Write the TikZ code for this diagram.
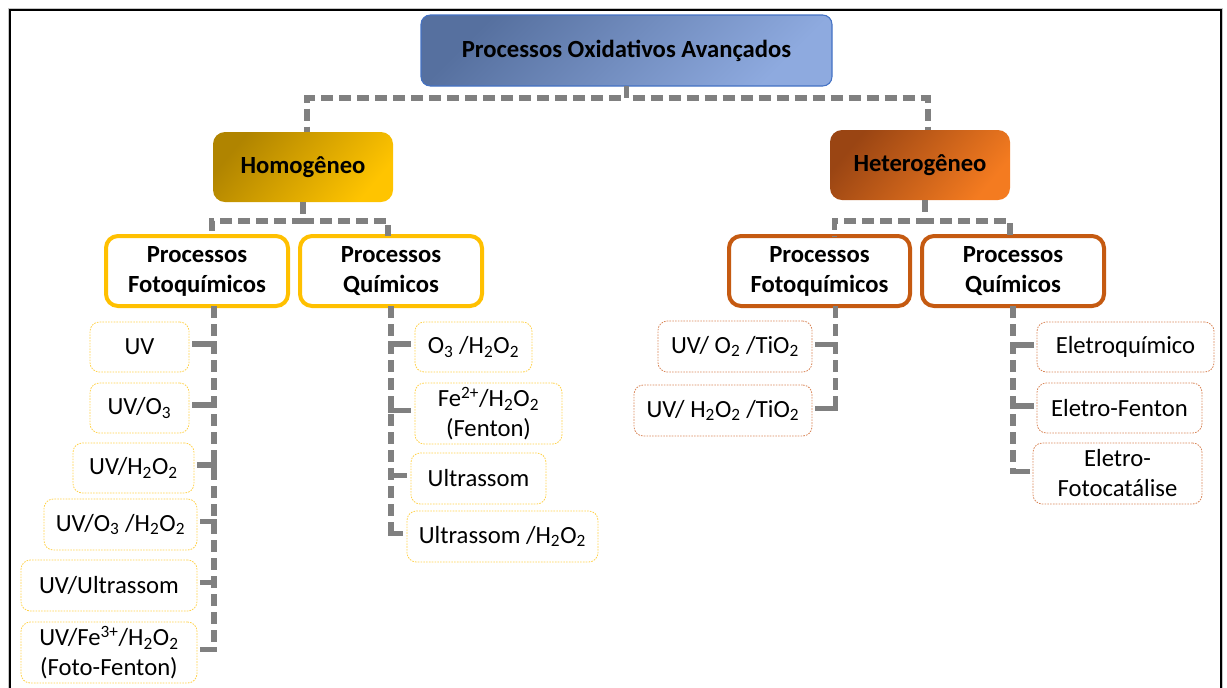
\documentclass[tikz,border=0pt]{standalone}
\usepackage{fontspec}
\setmainfont{Carlito}
\usetikzlibrary{calc}
\definecolor{cgray}{HTML}{808080}
\definecolor{cblueA}{HTML}{56709F}
\definecolor{cblueB}{HTML}{8EAADF}
\definecolor{cblueE}{HTML}{4472C4}
\definecolor{cgoldA}{HTML}{B08400}
\definecolor{cgoldB}{HTML}{FFC400}
\definecolor{cgold}{HTML}{FFC000}
\definecolor{cgoldL}{HTML}{FFD24D}
\definecolor{corA}{HTML}{9A4513}
\definecolor{corB}{HTML}{F47B20}
\definecolor{cor}{HTML}{C55A11}
\definecolor{corL}{HTML}{D9875A}
\newcommand\mybox[7]{%
  \pgfmathsetmacro\bw{(#4-#2)*0.75}%
  \pgfmathsetmacro\bh{(#5-#3)*0.75}%
  \node[#6, minimum width=\bw pt, minimum height=\bh pt] (#1) at ({(#2+#4)/2},{(#3+#5)/2}) {#7};}
\newcommand\sbt[1]{\textsubscript{#1}}
\begin{document}
\begin{tikzpicture}[x=0.75pt,y=-0.75pt,
  every node/.style={inner sep=0pt, outer sep=0pt, align=center,
    font=\fontsize{18.5}{22.5}\selectfont},
  hdr/.style={font=\fontsize{18.5}{22.5}\selectfont\bfseries},
  topbox/.style={hdr, draw=cblueE, line width=0.8pt, rounded corners=7pt,
    top color=cblueA, bottom color=cblueB, shading angle=45},
  homobox/.style={hdr, rounded corners=9pt, top color=cgoldA, bottom color=cgoldB, shading angle=50},
  hetebox/.style={hdr, rounded corners=9pt, top color=corA, bottom color=corB, shading angle=50},
  homosub/.style={hdr, draw=cgold, fill=white, line width=3pt, rounded corners=9pt},
  hetesub/.style={hdr, draw=cor, fill=white, line width=3pt, rounded corners=9pt},
  homoleaf/.style={draw=cgoldL, line width=0.6pt, dash pattern=on 1.2pt off 0.9pt, rounded corners=7pt},
  heteleaf/.style={draw=corL, line width=0.6pt, dash pattern=on 1.2pt off 0.9pt, rounded corners=7pt},
  conn/.style={draw=cgray, line width=4.2pt, dash pattern=on 9pt off 4.5pt, line join=miter},
  stub/.style={draw=cgray, line width=4.2pt, line join=miter}
]
\useasboundingbox (0,0) rectangle (1227,687);
% frame
\draw[gray!45, line width=1pt] (8.5,700) -- (8.5,8.5) -- (1222.5,8.5) -- (1222.5,700);
\draw[black, line width=1.5pt] (10,700) -- (10,10) -- (1221,10) -- (1221,700);

% nodes
\mybox{T}{421}{15}{832}{86}{topbox}{Processos Oxidativos Avançados}
\mybox{Hm}{213}{132}{393}{202}{homobox}{Homogêneo}
\mybox{Ht}{830}{130}{1010}{200}{hetebox}{Heterogêneo}
\mybox{HF}{106}{236}{288}{306}{homosub}{Processos\\Fotoquímicos}
\mybox{HQ}{300}{236}{482}{306}{homosub}{Processos\\Químicos}
\mybox{TF}{729}{236}{910}{306}{hetesub}{Processos\\Fotoquímicos}
\mybox{TQ}{922}{236}{1104}{306}{hetesub}{Processos\\Químicos}

\mybox{a1}{90}{322}{189}{372}{homoleaf}{UV}
\mybox{a2}{90}{383}{189}{433}{homoleaf}{UV/O\sbt{3}}
\mybox{a3}{73}{443}{194}{493}{homoleaf}{UV/H\sbt{2}O\sbt{2}}
\mybox{a4}{44}{499}{197}{550}{homoleaf}{UV/O\sbt{3} /H\sbt{2}O\sbt{2}}
\mybox{a5}{21}{560}{197}{611}{homoleaf}{UV/Ultrassom}
\mybox{a6}{21}{622}{197}{683}{homoleaf}{UV/Fe\textsuperscript{3+}/H\sbt{2}O\sbt{2}\\(Foto-Fenton)}

\mybox{b1}{415}{322}{532}{372}{homoleaf}{O\sbt{3} /H\sbt{2}O\sbt{2}}
\mybox{b2}{415}{383}{562}{444}{homoleaf}{Fe\textsuperscript{2+}/H\sbt{2}O\sbt{2}\\(Fenton)}
\mybox{b3}{411}{453}{546}{504}{homoleaf}{Ultrassom}
\mybox{b4}{407}{511}{598}{562}{homoleaf}{Ultrassom /H\sbt{2}O\sbt{2}}

\mybox{c1}{658}{321}{812}{372}{heteleaf}{UV/ O\sbt{2} /TiO\sbt{2}}
\mybox{c2}{634}{385}{812}{436}{heteleaf}{UV/ H\sbt{2}O\sbt{2} /TiO\sbt{2}}

\mybox{d1}{1037}{322}{1214}{372}{heteleaf}{Eletroquímico}
\mybox{d2}{1037}{383}{1202}{433}{heteleaf}{Eletro-Fenton}
\mybox{d3}{1033}{443}{1202}{504}{heteleaf}{Eletro-\\Fotocatálise}

% connectors level 1
\draw[conn] (T.south) -- ++(0,12) -| ($(Hm.north)+(4,0)$);
\draw[conn] (T.south) -- ++(0,12) -| ($(Ht.north)+(8,0)$);
% level 2
\draw[conn] (Hm.south) -- ++(0,19) -| ($(HF.north)+(15,0)$);
\draw[conn] (Hm.south) -- ++(0,19) -| ($(HQ.north)+(-3,0)$);
\draw[conn] ($(Ht.south)+(5,0)$) -- ++(0,21) -| ($(TF.north)+(15,0)$);
\draw[conn] ($(Ht.south)+(5,0)$) -- ++(0,21) -| ($(TQ.north)+(-3,0)$);
% trunk tops
\coordinate (tHF) at ($(HF.south)+(17,0)$);
\coordinate (tHQ) at (HQ.south);
\coordinate (tTF) at ($(TF.south)+(16,0)$);
\coordinate (tTQ) at (TQ.south);
% leaves
\foreach \l in {a1,a2,a3,a4,a5,a6}{
  \coordinate (s) at ($(\l.east)+(3,-3)$);
  \draw[conn] (tHF) |- (s);
  \draw[stub] (s) -- ($(tHF |- s)+(2.8,0)$);}
\foreach \l in {b1,b2,b3,b4}{
  \coordinate (s) at ($(\l.west)+(-4,-3)$);
  \draw[conn] (tHQ) |- (s);
  \draw[stub] (s) -- ($(tHQ |- s)+(-2.8,0)$);}
\foreach \l in {c1,c2}{
  \coordinate (s) at ($(\l.east)+(3,-2)$);
  \draw[conn] (tTF) |- (s);
  \draw[stub] (s) -- ($(tTF |- s)+(2.8,0)$);}
\foreach \l in {d1,d2,d3}{
  \coordinate (s) at ($(\l.west)+(-3,-2)$);
  \draw[conn] (tTQ) |- (s);
  \draw[stub] (s) -- ($(tTQ |- s)+(-2.8,0)$);}
\end{tikzpicture}
\end{document}
